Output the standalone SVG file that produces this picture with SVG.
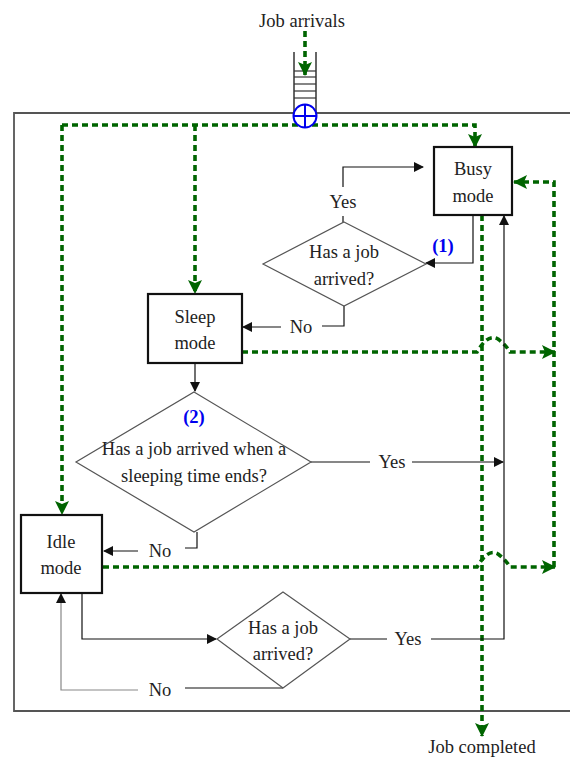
<svg xmlns="http://www.w3.org/2000/svg" width="570" height="758" viewBox="0 0 570 758">
<style>
text{font-family:"Liberation Serif","Times New Roman",serif;font-size:18.5px;fill:#222;text-anchor:middle}
.blue{fill:#0000ee;font-weight:bold}
.box{fill:#fff;stroke:#111;stroke-width:2.2}
.dia{fill:#fff;stroke:#555;stroke-width:1.2}
.ln{fill:none;stroke:#111;stroke-width:1.2}
.gr{fill:none;stroke:#006400;stroke-width:3.6;stroke-dasharray:6 4}
</style>
<defs>
<marker id="ab" markerWidth="10" markerHeight="10" refX="9" refY="5" orient="auto" markerUnits="userSpaceOnUse">
<path d="M0,0 L10,5 L0,10 Z" fill="#111"/>
</marker>
<marker id="ag" markerWidth="14" markerHeight="14" refX="13" refY="7" orient="auto" markerUnits="userSpaceOnUse">
<path d="M0,0 L14,7 L0,14 L3,7 Z" fill="#006400"/>
</marker>
</defs>
<rect width="570" height="758" fill="#fff"/>
<g id="frame">
<path d="M600,113 H14 V711 H600" fill="none" stroke="#555" stroke-width="1.8"/>
</g>
<g id="queue">
<line x1="294" y1="52" x2="294" y2="113" stroke="#333" stroke-width="1.5"/>
<line x1="316" y1="52" x2="316" y2="113" stroke="#333" stroke-width="1.5"/>
<line x1="294" y1="71" x2="316" y2="71" stroke="#333" stroke-width="1.2"/>
<line x1="294" y1="77" x2="316" y2="77" stroke="#333" stroke-width="1.2"/>
<line x1="294" y1="84" x2="316" y2="84" stroke="#333" stroke-width="1.2"/>
<line x1="294" y1="91" x2="316" y2="91" stroke="#333" stroke-width="1.2"/>
<line x1="294" y1="98" x2="316" y2="98" stroke="#333" stroke-width="1.2"/>
<text x="302" y="27">Job arrivals</text>
</g>
<g id="connectors">
<path class="gr" d="M305,31 V75" marker-end="url(#ag)"/>
<path class="gr" d="M62,125 H475 V147" marker-end="url(#ag)"/>
<path class="gr" d="M62,125 V514" marker-end="url(#ag)"/>
<path class="gr" d="M195,125 V293" marker-end="url(#ag)"/>
<path class="gr" d="M482,215 V736" marker-end="url(#ag)"/>
<path class="gr" d="M554,567 V182 H514" marker-end="url(#ag)"/>
<path class="gr" d="M242,352 H477 Q488,333 498,339 Q506,345 510,352 H555" marker-end="url(#ag)"/>
<path class="gr" d="M103,567 H477 Q488,548 498,554 Q506,560 510,567 H555" marker-end="url(#ag)"/>
<path class="ln" d="M343,187 V167 H423" marker-end="url(#ab)"/>
<path class="ln" d="M343,222 V216"/>
<path class="ln" d="M473,215 V263 H426" marker-end="url(#ab)"/>
<path class="ln" d="M344,306 V326 H322"/>
<path class="ln" d="M281,327 H243" marker-end="url(#ab)"/>
<path class="ln" d="M195,363 V391" marker-end="url(#ab)"/>
<path class="ln" d="M311,462 H370"/>
<path class="ln" d="M412,462 H503" marker-end="url(#ab)"/>
<path class="ln" d="M197,532 V548 H185"/>
<path class="ln" d="M138,551 H104" marker-end="url(#ab)"/>
<path class="ln" d="M82,593 V639 H216" marker-end="url(#ab)"/>
<path class="ln" d="M350,639 H387"/>
<path class="ln" d="M431,639 H504 V216" marker-end="url(#ab)"/>
<path class="ln" d="M283,688 H185"/>
<path d="M138,690 H61 V594" fill="none" stroke="#888" stroke-width="1.2" marker-end="url(#ab)"/>
<text x="343" y="208">Yes</text>
<text class="blue" x="443" y="252">(1)</text>
<text x="301" y="333">No</text>
<text x="392" y="468">Yes</text>
<text x="160" y="557">No</text>
<text x="408" y="645">Yes</text>
<text x="160" y="696">No</text>
<text x="482" y="753">Job completed</text>
</g>
<g id="merge">
<circle cx="305" cy="116" r="11.5" fill="#fff" stroke="#0000ee" stroke-width="2"/>
<line x1="293.5" y1="116" x2="316.5" y2="116" stroke="#0000ee" stroke-width="2"/>
<line x1="305" y1="104.5" x2="305" y2="127.5" stroke="#0000ee" stroke-width="2"/>
</g>
<g id="busy">
<rect class="box" x="434" y="147" width="78" height="68"/>
<text x="473" y="175">Busy</text>
<text x="473" y="202">mode</text>
</g>
<g id="dec1">
<polygon class="dia" points="344,222 426,264 344,306 263,264"/>
<text x="344" y="258">Has a job</text>
<text x="344" y="285">arrived?</text>
</g>
<g id="sleep">
<rect class="box" x="148" y="294" width="94" height="69"/>
<text x="195" y="323">Sleep</text>
<text x="195" y="349">mode</text>
</g>
<g id="dec2">
<polygon class="dia" points="194,392 311,462 194,532 76,462"/>
<text class="blue" x="194" y="423">(2)</text>
<text x="194" y="455">Has a job arrived when a</text>
<text x="194" y="482">sleeping time ends?</text>
</g>
<g id="idle">
<rect class="box" x="21" y="515" width="81" height="78"/>
<text x="61" y="548">Idle</text>
<text x="61" y="574">mode</text>
</g>
<g id="dec3">
<polygon class="dia" points="283,592 350,639 283,688 217,639"/>
<text x="283" y="634">Has a job</text>
<text x="283" y="660">arrived?</text>
</g>
</svg>
